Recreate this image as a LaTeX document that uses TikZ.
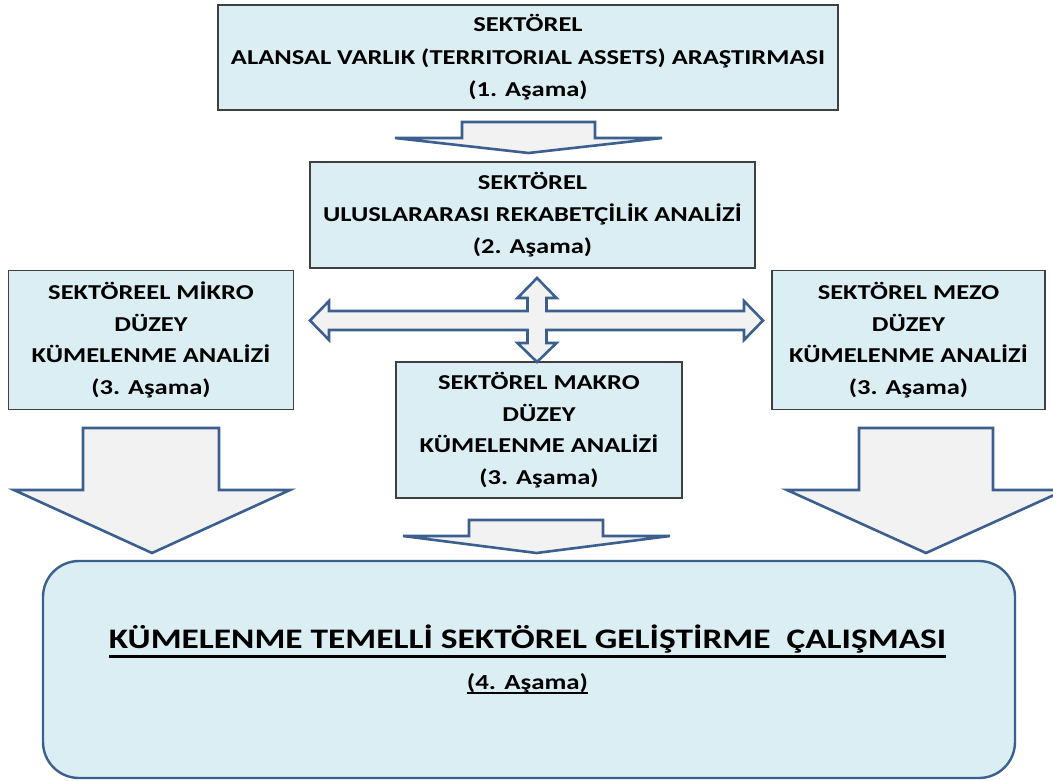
\documentclass[tikz,border=0pt]{standalone}
\usepackage{fontspec}
\setmainfont{Carlito}[FakeStretch=1.25]
\definecolor{boxfill}{HTML}{DBEEF4}
\definecolor{boxline}{HTML}{404040}
\definecolor{arrline}{HTML}{3B5F8E}
\definecolor{arrfill}{HTML}{F2F2F2}
\newsavebox\ulbox
\newcommand\thickul[3]{\sbox\ulbox{#3}\rlap{\rule[-#1]{\wd\ulbox}{#2}}\usebox\ulbox}
\tikzset{
  stagebox/.style={draw=boxline, line width=1.1pt, fill=boxfill, inner sep=0pt,
    align=center, font=\fontsize{21.2}{31.5}\selectfont\bfseries},
  blockarrow/.style={draw=arrline, line width=2.6pt, fill=arrfill, line join=miter},
}
\begin{document}
\begin{tikzpicture}[x=1pt,y=-1pt]
\useasboundingbox (0,0) rectangle (1053,780);
\begin{scope}
\clip (0,0) rectangle (1053,780);
% boxes
\node[stagebox, minimum width=620, minimum height=105,
  font=\fontsize{21.2}{32.5}\selectfont\bfseries] (s1) at (528,57.5)
  {SEKTÖREL\\ALANSAL VARLIK (TERRITORIAL ASSETS) ARAŞTIRMASI\\(1. Aşama)};
\node[stagebox, minimum width=445, minimum height=106,
  font=\fontsize{21.2}{32}\selectfont\bfseries] (s2) at (532.5,215)
  {SEKTÖREL\\ULUSLARARASI REKABETÇİLİK ANALİZİ\\(2. Aşama)};
\node[stagebox, minimum width=285, minimum height=139] (s3a) at (151,340)
  {SEKTÖREEL MİKRO\\DÜZEY\\KÜMELENME ANALİZİ\\(3. Aşama)};
\node[stagebox, minimum width=273, minimum height=139] (s3c) at (908.5,340)
  {SEKTÖREL MEZO\\DÜZEY\\KÜMELENME ANALİZİ\\(3. Aşama)};
\node[stagebox, minimum width=286, minimum height=136] (s3b) at (539,430)
  {SEKTÖREL MAKRO\\DÜZEY\\KÜMELENME ANALİZİ\\(3. Aşama)};
% arrow 1 -> 2
\draw[blockarrow] (462,122) -- (595,122) -- (595,138) -- (662,138) -- (528.5,153)
  -- (395,138) -- (462,138) -- cycle;
% four-way arrow
\draw[blockarrow] (310,320.5) -- (329,301) -- (329,311) -- (527.5,311) -- (527.5,298)
  -- (517.5,298) -- (537,278) -- (556.5,298) -- (546.5,298) -- (546.5,311)
  -- (744,311) -- (744,301) -- (763,320.5) -- (744,340) -- (744,330)
  -- (546.5,330) -- (546.5,343) -- (556.5,343) -- (537,362) -- (517.5,343)
  -- (527.5,343) -- (527.5,330) -- (329,330) -- (329,340) -- cycle;
% big arrows
\draw[blockarrow] (83,428) -- (219,428) -- (219,490) -- (290,490) -- (152,553)
  -- (14,490) -- (83,490) -- cycle;
\draw[blockarrow] (859,428) -- (993,428) -- (993,490) -- (1065,490) -- (926,553)
  -- (787,490) -- (859,490) -- cycle;
\draw[blockarrow] (469,520) -- (603,520) -- (603,536) -- (670,536) -- (536.5,553)
  -- (403,536) -- (469,536) -- cycle;
% final box
\draw[draw=arrline, line width=2.4pt, fill=boxfill, rounded corners=36pt]
  (43,561) rectangle (1015,778);
\node[inner sep=0pt, anchor=base, font=\fontsize{28.3}{33}\selectfont\bfseries] (s4) at (527.5,648)
  {\thickul{10pt}{3pt}{KÜMELENME TEMELLİ SEKTÖREL GELİŞTİRME\ \ ÇALIŞMASI}};
\node[inner sep=0pt, anchor=base, font=\fontsize{21.5}{25}\selectfont\bfseries] (s4b) at (527.5,689)
  {\thickul{5pt}{1.8pt}{(4. Aşama)}};
\end{scope}
\end{tikzpicture}
\end{document}
